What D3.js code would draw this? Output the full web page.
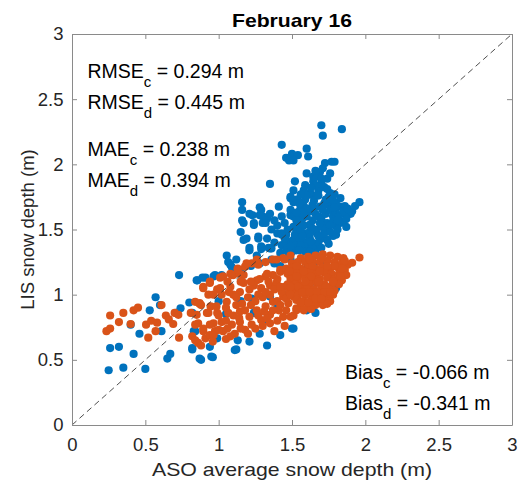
<!DOCTYPE html>
<html>
<head>
<meta charset="utf-8">
<script src="https://cdn.jsdelivr.net/npm/d3@7"></script>
<style>
  body { margin: 0; background: #fff; }
  svg { display: block; }
  text { font-family: "Liberation Sans", Arial, Helvetica, sans-serif; }
</style>
</head>
<body>
<svg id="chart" width="520" height="487"></svg>
<script>
// ---- chart text ----
const titleText = "February 16";
const xLabelText = "ASO average snow depth (m)";
const yLabelText = "LIS snow depth (m)";

// ---- axis ticks ----
const xTicks = [0, 0.5, 1, 1.5, 2, 2.5, 3];
const yTicks = [0, 0.5, 1, 1.5, 2, 2.5, 3];

// ---- summary statistics ----
const statsUpper = [
  { name: "RMSE", sub: "c", value: "0.294 m" },
  { name: "RMSE", sub: "d", value: "0.445 m" },
  { name: "MAE",  sub: "c", value: "0.238 m" },
  { name: "MAE",  sub: "d", value: "0.394 m" }
];
const statsLower = [
  { name: "Bias", sub: "c", value: "-0.066 m" },
  { name: "Bias", sub: "d", value: "-0.341 m" }
];

// ---- series c: [ASO depth, LIS depth] in metres ----
const seriesC = [
  [0.25,0.42],[0.35,0.44],[0.50,0.43],[0.26,0.59],[0.32,0.60],[0.42,0.545],[0.46,0.70],[0.40,0.77],
  [0.53,0.88],[0.57,0.98],[0.60,0.92],[0.61,0.72],[0.65,0.51],[0.67,0.545],[0.73,1.15],[0.71,0.86],
  [0.74,0.895],[0.80,0.94],[0.85,1.11],[0.91,1.13],[0.87,0.51],[0.96,0.52],[0.82,0.58],[0.84,0.72],
  [0.94,0.60],[0.99,0.665],[1.12,0.58],[0.855,1.11],[0.89,1.13],[0.965,1.14],[0.975,1.15],[0.82,0.86],
  [0.83,0.72],[0.82,0.59],[0.88,0.50],[0.95,0.525],
  [1.11,0.575],[1.13,0.65],[1.21,0.64],[1.28,0.70],[1.33,0.61],[1.42,0.69],[1.50,0.74],[1.51,0.74],
  [1.66,0.86],[1.60,0.88],[1.24,0.86],[1.25,0.87],[1.225,0.97],[1.35,0.985],[1.70,0.97],
  [1.00,0.95],[1.05,0.85],[1.15,0.95],[1.30,0.80],[1.40,0.90],[1.45,1.00],[1.55,1.05],[1.65,1.10],
  [1.75,1.15],[1.80,1.05],[1.70,1.25],[1.60,1.20],[1.50,1.15],[1.53,1.21],[1.645,1.23],
  [1.35,1.85],[1.16,1.71],[1.16,1.65],[1.16,1.57],[1.15,1.48],[1.21,1.62],[1.23,1.61],[1.24,1.55],
  [1.24,1.535],[1.28,1.67],[1.29,1.65],[1.28,1.61],[1.30,1.60],[1.33,1.585],[1.35,1.62],[1.41,1.675],
  [1.38,1.57],[1.32,1.55],[1.36,1.50],[1.17,1.42],[1.21,1.36],[1.27,1.43],[1.27,1.445],[1.33,1.43],
  [1.29,1.35],[1.34,1.36],[1.40,1.47],[1.43,1.47],[1.46,1.46],[1.51,1.52],[1.49,1.61],[1.475,1.41],
  [1.43,1.38],[1.42,1.32],[1.055,1.30],[1.065,1.25],[1.09,1.21],[1.12,1.27],[1.26,1.30],[1.36,1.27],
  [1.49,1.27],[1.54,1.37],[1.53,1.47],[1.19,1.43],[1.08,1.23],[1.02,1.15],[1.35,1.355],[1.46,1.39],
  [1.30,1.55],[1.17,1.55],[1.21,1.34],[1.29,1.37],[1.36,1.355],[1.475,1.32],[1.51,1.42],[1.61,1.39],
  [1.69,1.43],[1.80,1.46],[1.83,1.55],[1.74,1.55],[1.555,1.55],[1.43,1.46],
  [1.43,2.15],[1.46,2.05],[1.48,2.03],[1.50,2.08],[1.54,2.07],[1.51,2.03],[1.60,2.12],[1.61,2.06],
  [1.70,2.30],[1.84,2.27],[1.71,2.22],[1.49,1.75],[1.51,1.71],[1.49,1.65],[1.54,1.73],[1.555,1.65],
  [1.59,1.84],[1.60,1.93],[1.645,1.905],
  [1.725,2.01],[1.77,2.02],[1.79,2.02],[1.69,1.94],[1.67,1.905],[1.74,1.89],[1.645,1.87],[1.72,1.825],
  [1.58,1.80],[1.635,1.765],[1.53,1.73],[1.59,1.73],[1.76,1.78],[1.83,1.74],[1.96,1.71],[1.91,1.64],
  [1.90,1.62],[1.83,1.675],[1.75,1.69],[1.69,1.675],[1.645,1.66],[1.51,1.60],[1.60,1.60],[1.68,1.60],
  [1.78,1.60],[1.84,1.56],[1.725,1.545],[1.62,1.535],[1.53,1.52],[1.52,1.46],[1.59,1.47],[1.67,1.47],
  [1.78,1.45],[1.70,1.43],[1.58,1.405],[1.645,1.37],[1.59,1.355],[1.66,1.36],[1.53,1.34],[1.805,1.52],
  [1.86,1.62],[1.51,1.80],[1.49,1.74],[1.52,1.87],[1.58,1.37],[1.66,1.38],[1.59,1.33],[1.66,1.34],
  [1.50,1.33],[1.46,1.34],[1.64,1.37],
  [1.55,1.62],[1.57,1.58],[1.62,1.64],[1.66,1.62],[1.70,1.58],[1.73,1.62],[1.76,1.65],[1.80,1.63],
  [1.82,1.60],[1.78,1.56],[1.74,1.50],[1.70,1.52],[1.66,1.50],[1.62,1.48],[1.56,1.49],[1.55,1.42],
  [1.62,1.44],[1.68,1.40],[1.74,1.42],[1.72,1.70],[1.65,1.72],[1.62,1.78],[1.68,1.80],[1.70,1.85],
  [1.66,1.84],[1.75,1.75],[1.80,1.70],[1.86,1.68],[1.58,1.68],[1.55,1.70],[1.64,1.69],[1.71,1.65],
  [1.78,1.72],[1.57,1.45],[1.52,1.38],[1.63,1.52],[1.87,1.58],
  [1.53,1.57],[1.58,1.53],[1.64,1.57],[1.69,1.55],[1.76,1.53],[1.81,1.57],[1.85,1.64],[1.79,1.67],
  [1.73,1.73],[1.68,1.76],[1.63,1.82],[1.60,1.76],[1.56,1.77],[1.66,1.95],[1.71,1.97],[1.76,1.93],
  [1.70,1.89],[1.64,1.64],[1.60,1.66],[1.57,1.63],[1.53,1.63],[1.72,1.47],[1.76,1.48],[1.68,1.45],
  [1.63,1.41],[1.56,1.38],[1.70,1.36],[1.75,1.39],[1.55,1.34],[1.62,1.33],[1.49,1.37],[1.47,1.50],
  [1.45,1.55],[1.43,1.60],[1.40,1.53],[1.38,1.40],[1.45,1.43],[1.81,1.50],[1.87,1.52],[1.88,1.66],
  [1.93,1.68],[1.79,1.77],[1.74,1.81],
  [1.15,1.18],[1.22,1.22],[1.28,1.24],[1.38,1.24],[1.42,1.22]
];

// ---- series d: [ASO depth, LIS depth] in metres ----
const seriesD = [
  [0.235,0.72],[0.26,0.74],[0.26,0.84],[0.32,0.79],[0.35,0.86],[0.40,0.775],[0.42,0.88],[0.45,0.90],
  [0.505,0.77],[0.52,0.67],[0.54,0.80],[0.57,0.72],[0.58,0.785],[0.61,0.92],[0.64,0.84],[0.66,0.81],
  [0.69,0.775],[0.70,0.86],[0.725,0.845],[0.73,0.67],[0.81,0.86],[0.82,0.68],[0.86,0.63],[0.87,0.93],
  [0.895,0.72],[0.93,0.86],[0.91,0.665],[0.94,0.69],[0.975,0.72],[0.965,0.78],[0.99,0.86],[0.86,0.78],
  [0.895,1.06],[0.93,1.00],[0.945,0.91],[0.99,1.04],
  [0.94,1.09],[1.03,1.14],[1.10,1.15],[1.145,1.16],[1.26,1.11],[1.32,1.14],[1.37,1.15],[1.42,1.175],
  [1.49,1.14],[1.53,1.09],[0.895,1.05],[0.965,1.00],[1.01,1.05],[1.08,1.06],[1.10,1.00],[1.145,1.02],
  [1.17,1.09],[1.24,1.07],[1.29,1.05],[1.35,1.07],[1.395,1.09],[1.45,1.06],[1.51,1.04],
  [0.84,0.945],[0.88,0.92],[0.92,0.86],[0.85,0.845],[0.84,0.77],[0.895,0.74],[0.94,0.77],[0.965,0.69],
  [0.84,0.65],[0.88,0.61],
  [1.02,0.79],[1.03,0.72],[1.065,0.86],[1.09,0.77],[1.11,0.70],[1.145,0.87],[1.145,0.79],[1.18,0.73],
  [1.21,0.83],[1.225,0.77],[1.26,0.88],[1.29,0.805],[1.32,0.91],[1.35,0.845],[1.37,0.945],[1.41,0.88],
  [1.44,0.985],[1.475,0.935],[1.51,0.985],[1.53,0.895],[1.44,0.83],[1.49,0.83],
  [1.055,0.945],[0.985,0.91],[1.12,0.92],
  [1.13,1.20],[1.18,1.215],[1.225,1.24],[1.27,1.23],[1.32,1.25],[1.37,1.27],[1.44,1.28],[1.49,1.30],
  [1.17,1.15],[1.09,1.15],[1.33,1.16],[1.42,1.19],[1.19,1.24],[1.26,1.27],[1.395,1.27],[1.45,1.27],
  [1.13,1.19],[1.08,1.16],[1.01,1.13],[0.94,1.10],[0.87,0.935],
  [1.00,0.84],[1.05,0.80],[1.08,0.68],[1.15,0.74],[1.20,0.70],[1.25,0.74],[1.30,0.76],[1.35,0.78],
  [1.40,0.80],[1.38,0.72],[1.45,0.76],[1.46,0.88],[1.40,0.95],[1.30,0.98],[1.25,0.95],[1.20,0.98],
  [1.16,0.93],[1.00,0.73],[0.96,0.64],[1.05,0.66],
  [1.40,1.12],[1.43,1.02],[1.38,1.04],[1.35,1.00],
  [1.05,0.90],[1.10,0.84],[1.14,0.82],[1.18,0.88],[1.22,0.92],[1.27,0.84],[1.31,0.87],[1.33,0.82],
  [1.37,0.88],[1.42,0.92],[1.46,0.97],[1.48,1.02],[1.42,1.06],[1.34,1.10],[1.28,1.12],[1.22,1.10],
  [1.15,1.10],[1.06,1.10],[1.02,1.00],[1.07,1.02],[1.21,1.04],[1.27,1.00],[1.32,1.02],[1.12,0.98],
  [1.06,0.74],
  [1.56,1.28],[1.61,1.29],[1.66,1.30],[1.71,1.31],[1.76,1.30],[1.81,1.29],[1.85,1.28],
  [1.50,1.24],[1.54,1.25],[1.59,1.25],[1.64,1.26],[1.69,1.25],[1.74,1.26],[1.79,1.25],[1.84,1.24],[1.88,1.23],
  [1.46,1.20],[1.51,1.21],[1.56,1.20],[1.61,1.21],[1.66,1.20],[1.71,1.21],[1.76,1.20],[1.81,1.21],[1.86,1.19],
  [1.47,1.16],[1.52,1.17],[1.57,1.16],[1.62,1.17],[1.67,1.16],[1.72,1.17],[1.77,1.16],[1.82,1.16],[1.87,1.15],
  [1.49,1.12],[1.54,1.12],[1.59,1.13],[1.64,1.12],[1.69,1.12],[1.74,1.13],[1.79,1.12],[1.84,1.11],
  [1.47,1.08],[1.52,1.08],[1.57,1.07],[1.62,1.08],[1.67,1.09],[1.72,1.08],[1.77,1.07],[1.82,1.08],
  [1.50,1.04],[1.55,1.03],[1.60,1.04],[1.65,1.04],[1.70,1.05],[1.75,1.04],[1.79,1.03],
  [1.49,1.00],[1.54,0.99],[1.59,1.00],[1.64,1.00],[1.69,1.01],[1.74,0.99],[1.78,1.00],
  [1.53,0.96],[1.58,0.95],[1.63,0.96],[1.68,0.95],[1.72,0.96],[1.76,0.95],
  [1.56,0.92],[1.61,0.91],[1.66,0.92],[1.71,0.92],[1.74,0.93],
  [1.53,0.88],[1.58,0.88],[1.63,0.89],[1.51,0.84],
  [1.53,1.22],[1.58,1.18],[1.63,1.14],[1.68,1.10],[1.73,1.06],[1.78,1.10],[1.83,1.14],[1.84,1.20],
  [1.79,1.22],[1.74,1.22],[1.69,1.18],[1.64,1.22],[1.59,1.10],[1.54,1.06],[1.49,1.06],[1.57,1.02],
  [1.62,1.02],[1.67,1.02],[1.72,1.02],[1.76,1.02],[1.66,0.97],[1.61,0.94],[1.56,0.94],[1.70,0.97],
  [1.53,1.14],[1.48,1.18],[1.86,1.26],[1.70,1.28],[1.62,1.27],
  [1.91,1.245],[1.96,1.285]
];

// ---- colours ----
const colorC = "#0072BD";
const colorD = "#D95319";
const axisColor = "#8a8a8a";
const labelColor = "#262626";

// ---- layout ----
const W = 520, H = 487;
const margin = { top: 34, right: 8, bottom: 62, left: 72 };
const tickFont = 18.5;
const noteFont = 19.5;

const svg = d3.select("#chart");
const x = d3.scaleLinear().domain([0, 3]).range([margin.left, W - margin.right]);
const y = d3.scaleLinear().domain([0, 3]).range([H - margin.bottom, margin.top]);

const fmt = d3.format("~g");

// points: series c underneath, series d on top
const r = 4.1;
svg.append("g").selectAll("circle").data(seriesC).join("circle")
  .attr("cx", d => x(d[0])).attr("cy", d => y(d[1])).attr("r", r).attr("fill", colorC);
svg.append("g").selectAll("circle").data(seriesD).join("circle")
  .attr("cx", d => x(d[0])).attr("cy", d => y(d[1])).attr("r", r).attr("fill", colorD);

// 1:1 reference line
svg.append("line")
  .attr("x1", x(0)).attr("y1", y(0)).attr("x2", x(3)).attr("y2", y(3))
  .attr("stroke", "#3a3a3a").attr("stroke-width", 0.9).attr("stroke-dasharray", "6,4");

// axes with inward ticks on all four sides
function styleAxis(g, showLabels) {
  g.select(".domain").attr("stroke", axisColor);
  g.selectAll(".tick line").attr("stroke", axisColor);
  g.selectAll(".tick text")
    .attr("fill", labelColor)
    .style("font-size", tickFont + "px")
    .style("font-family", '"Liberation Sans", Arial, sans-serif')
    .attr("display", showLabels ? null : "none");
}

svg.append("g").attr("transform", `translate(0,${y(0)})`)
  .call(d3.axisBottom(x).tickValues(xTicks).tickFormat(fmt).tickSize(-5).tickSizeOuter(0).tickPadding(13))
  .call(g => styleAxis(g, true));
svg.append("g").attr("transform", `translate(0,${y(3)})`)
  .call(d3.axisTop(x).tickValues(xTicks).tickSize(-5).tickSizeOuter(0))
  .call(g => styleAxis(g, false));
svg.append("g").attr("transform", `translate(${x(0)},0)`)
  .call(d3.axisLeft(y).tickValues(yTicks).tickFormat(fmt).tickSize(-5).tickSizeOuter(0).tickPadding(8.5))
  .call(g => styleAxis(g, true));
svg.append("g").attr("transform", `translate(${x(3)},0)`)
  .call(d3.axisRight(y).tickValues(yTicks).tickSize(-5).tickSizeOuter(0))
  .call(g => styleAxis(g, false));

// title
svg.append("text")
  .attr("x", (x(0) + x(3)) / 2).attr("y", 27)
  .attr("text-anchor", "middle").attr("font-weight", "bold")
  .style("font-size", "19px").attr("fill", "#000")
  .attr("textLength", 120).attr("lengthAdjust", "spacingAndGlyphs")
  .text(titleText);

// axis labels
svg.append("text")
  .attr("x", (x(0) + x(3)) / 2).attr("y", 476)
  .attr("text-anchor", "middle").style("font-size", "19px").attr("fill", labelColor)
  .attr("textLength", 280).attr("lengthAdjust", "spacingAndGlyphs")
  .text(xLabelText);
svg.append("text")
  .attr("transform", `translate(34,${(y(0) + y(3)) / 2}) rotate(-90)`)
  .attr("text-anchor", "middle").style("font-size", tickFont + "px").attr("fill", labelColor)
  .text(yLabelText);

// statistic annotations with subscripts
function statLine(xPos, yPos, s) {
  const t = svg.append("text").attr("x", xPos).attr("y", yPos)
    .style("font-size", noteFont + "px").attr("fill", "#000");
  t.append("tspan").text(s.name);
  t.append("tspan").attr("dy", 9).style("font-size", "15px").text(s.sub);
  t.append("tspan").attr("dy", -9).text(" = " + s.value);
}
const upperBaselines = [78.3, 109.3, 156, 186.7];
statsUpper.forEach((s, i) => statLine(87.5, upperBaselines[i], s));
const lowerBaselines = [379, 410];
statsLower.forEach((s, i) => statLine(345, lowerBaselines[i], s));
</script>
</body>
</html>
